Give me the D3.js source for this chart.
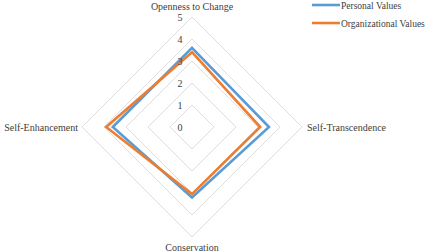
<!DOCTYPE html>
<html><head><meta charset="utf-8">
<script src="https://cdn.jsdelivr.net/npm/d3@7"></script>
<style>body{margin:0;background:#fff}svg{display:block}</style>
</head><body><svg width="433" height="252"></svg>
<script>
const categories=["Openness to Change","Self-Transcendence","Conservation","Self-Enhancement"];
const personal=[3.6,3.5,3.2,3.6];
const organizational=[3.4,3.1,3.05,3.9];
const ticks=[0,1,2,3,4,5];
const seriesNames=["Personal Values","Organizational Values"];
const colors=["#5B9BD5","#ED7D31"];
const FONT="Liberation Serif";

const svg=d3.select("svg");
const cx=192,cy=127,R=110;
const r=d3.scaleLinear().domain([0,5]).range([0,R]);
const ang=d3.scalePoint().domain(categories).range([0,2*Math.PI*3/4]);
const pt=(c,v)=>{const a=ang(c)-Math.PI/2;return [cx+r(v)*Math.cos(a),cy+r(v)*Math.sin(a)];};
const line=d3.line().curve(d3.curveLinearClosed);

// grid
ticks.slice(1).forEach(t=>{
  svg.append("path").attr("d",line(categories.map(c=>pt(c,t)))).attr("fill","none").attr("stroke","#dedede").attr("stroke-width",1);
});
// series
[personal,organizational].forEach((s,i)=>{
  svg.append("path").attr("d",line(categories.map((c,j)=>pt(c,s[j])))).attr("fill","none").attr("stroke",colors[i]).attr("stroke-width",2.6).attr("stroke-linejoin","miter");
});
// tick labels
ticks.forEach(t=>{
  svg.append("text").attr("x",cx-12).attr("y",cy-r(t)+4).attr("text-anchor","middle").attr("font-size",10).style("font-family",FONT).attr("fill","#404040").text(t);
});
// category labels
const lab=[{x:cx,y:10,a:"middle"},{x:307,y:cy+3.5,a:"start"},{x:cx,y:251,a:"middle"},{x:78,y:cy+3.5,a:"end"}];
categories.forEach((c,i)=>{
  svg.append("text").attr("x",lab[i].x).attr("y",lab[i].y).attr("text-anchor",lab[i].a).attr("font-size",10).style("font-family",FONT).attr("fill","#404040").text(c);
});
// legend
seriesNames.forEach((n,i)=>{
  const y=5+i*18;
  svg.append("line").attr("x1",312).attr("x2",340).attr("y1",y).attr("y2",y).attr("stroke",colors[i]).attr("stroke-width",2.6);
  svg.append("text").attr("x",341).attr("y",y+3.5).attr("font-size",9.5).style("font-family",FONT).attr("fill","#404040").text(n);
});
</script></body></html>
